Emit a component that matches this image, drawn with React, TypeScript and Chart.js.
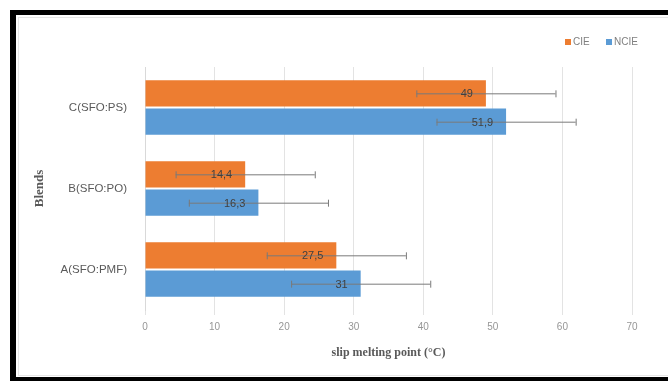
import React, { useEffect, useRef } from "react";
import { Chart, registerables } from "chart.js";

Chart.register(...registerables);

const categories = ["C(SFO:PS)", "B(SFO:PO)", "A(SFO:PMF)"];
const cieValues = [49, 14.4, 27.5];
const ncieValues = [51.9, 16.3, 31];
const cieErrors = [10, 10, 10];
const ncieErrors = [10, 10, 10];
const xTicks = [0, 10, 20, 30, 40, 50, 60, 70];
const seriesNames = ["CIE", "NCIE"];
const seriesColors = ["#ED7D31", "#5B9BD5"];

const fmt = (v: number) => String(v).replace(".", ",");

const errorBarsPlugin = {
  id: "errorBars",
  afterDatasetsDraw(chart: any) {
    const ctx = chart.ctx;
    const xScale = chart.scales.x;
    const errs = [cieErrors, ncieErrors];
    ctx.save();
    chart.data.datasets.forEach((ds: any, di: number) => {
      const meta = chart.getDatasetMeta(di);
      meta.data.forEach((bar: any, i: number) => {
        const v = ds.data[i];
        const e = errs[di][i];
        const x1 = xScale.getPixelForValue(v - e);
        const x2 = xScale.getPixelForValue(v + e);
        const y = bar.y;
        ctx.strokeStyle = "#7a7a7a";
        ctx.lineWidth = 1;
        ctx.beginPath();
        ctx.moveTo(x1, y + 0.5);
        ctx.lineTo(x2, y + 0.5);
        ctx.moveTo(x1 + 0.5, y - 3);
        ctx.lineTo(x1 + 0.5, y + 4);
        ctx.moveTo(x2 + 0.5, y - 3);
        ctx.lineTo(x2 + 0.5, y + 4);
        ctx.stroke();
        ctx.fillStyle = "#404040";
        ctx.font = "11px 'Liberation Sans', Arial, sans-serif";
        ctx.textAlign = "right";
        ctx.textBaseline = "middle";
        ctx.fillText(fmt(v), bar.x - 13, y + 1);
      });
    });
    ctx.font = "10px 'Liberation Sans', Arial, sans-serif";
    ctx.textAlign = "left";
    ctx.textBaseline = "middle";
    const legendX = [565, 606];
    seriesNames.forEach((n, i) => {
      ctx.fillStyle = seriesColors[i];
      ctx.fillRect(legendX[i], 39, 6, 6);
      ctx.fillStyle = "#7f7f7f";
      ctx.fillText(n, legendX[i] + 8, 42.5);
    });
    ctx.restore();
  },
};

export default function App() {
  const ref = useRef<HTMLCanvasElement>(null);
  useEffect(() => {
    if (!ref.current) return;
    const chart = new Chart(ref.current, {
      type: "bar",
      data: {
        labels: categories,
        datasets: [
          {
            label: seriesNames[0],
            data: cieValues,
            backgroundColor: seriesColors[0],
            borderWidth: 0,
            categoryPercentage: 0.7,
            barPercentage: 0.93,
          },
          {
            label: seriesNames[1],
            data: ncieValues,
            backgroundColor: seriesColors[1],
            borderWidth: 0,
            categoryPercentage: 0.7,
            barPercentage: 0.93,
          },
        ],
      },
      plugins: [errorBarsPlugin],
      options: {
        indexAxis: "y",
        responsive: false,
        animation: false,
        layout: { padding: { left: 25, right: 36, top: 67, bottom: 11 } },
        plugins: {
          legend: { display: false },
          tooltip: { enabled: false },
        },
        scales: {
          x: {
            min: 0,
            max: 70,
            afterBuildTicks: (scale: any) => {
              scale.ticks = xTicks.map((v) => ({ value: v }));
            },
            afterFit: (scale: any) => {
              scale.height = 60;
            },
            grid: { color: "#e3e3e3", drawTicks: true, tickLength: 5 },
            border: { display: false },
            ticks: {
              color: "#969696",
              font: { size: 10, family: "'Liberation Sans', Arial, sans-serif" },
              padding: 6,
            },
            title: {
              display: true,
              text: "slip melting point (°C)",
              color: "#595959",
              font: { size: 12, weight: "bold", family: "'Liberation Serif', 'Times New Roman', serif" },
              padding: { top: 0, bottom: 10 },
            },
          },
          y: {
            afterFit: (scale: any) => {
              scale.width = 120;
            },
            grid: { display: false },
            border: { display: true, color: "#d9d9d9" },
            ticks: {
              color: "#595959",
              font: { size: 11.5, family: "'Liberation Sans', Arial, sans-serif" },
              padding: 10,
            },
            title: {
              display: true,
              text: "Blends",
              color: "#595959",
              font: { size: 13, weight: "bold", family: "'Liberation Serif', 'Times New Roman', serif" },
              padding: { top: 7, bottom: 0 },
            },
          },
        },
      } as any,
    });
    return () => chart.destroy();
  }, []);

  return (
    <div
      style={{
        position: "fixed",
        left: 0,
        top: 0,
        width: 668,
        height: 381,
        overflow: "hidden",
        background: "#fff",
      }}
    >
      <div
        style={{
          position: "absolute",
          left: 10,
          top: 10,
          width: 700,
          height: 362,
          borderTop: "5px solid #000",
          borderLeft: "6px solid #000",
          borderBottom: "5px solid #000",
        }}
      />
      <div
        style={{
          position: "absolute",
          left: 18,
          top: 17,
          width: 700,
          height: 357,
          border: "1px solid #e6e6e6",
        }}
      />
      <canvas
        ref={ref}
        width={668}
        height={381}
        style={{ position: "absolute", left: 0, top: 0 }}
      />
    </div>
  );
}
